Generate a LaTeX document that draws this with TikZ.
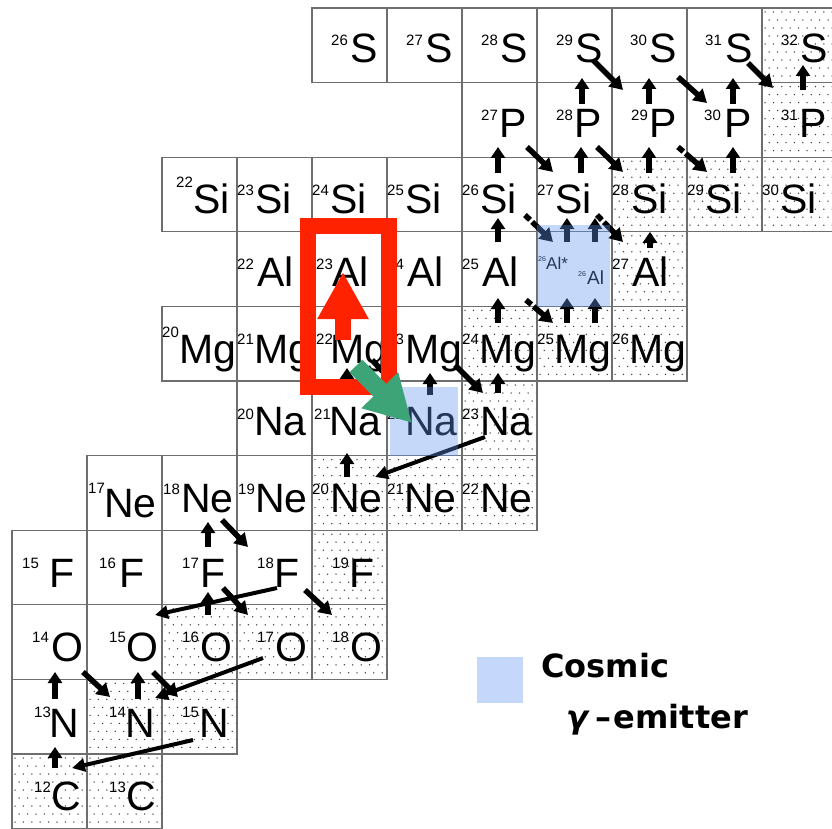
\documentclass[tikz,border=0pt]{standalone}
\usepackage{fontspec}
\setmainfont{Liberation Sans}
\newfontfamily\legendfont{DejaVu Sans}
\usetikzlibrary{arrows.meta}

\definecolor{gridline}{RGB}{110,110,110}
\definecolor{speck}{RGB}{60,60,60}
\definecolor{cosmic}{RGB}{197,216,251}
\definecolor{tint}{RGB}{98,150,244}
\definecolor{hlred}{RGB}{255,34,0}
\definecolor{hlgreen}{RGB}{61,164,120}

\tikzset{
  cellbox/.style={draw=gridline, line width=1.2pt, minimum width=75pt,
    minimum height=74.6pt, inner sep=0pt, outer sep=0pt},
  symtxt/.style={anchor=base west, inner sep=0pt, font=\fontsize{41}{41}\selectfont},
  suptxt/.style={anchor=base west, inner sep=0pt, font=\fontsize{15}{15}\selectfont},
  smalltxt/.style={anchor=base west, inner sep=0pt},
  pg/.style={line width=6.5pt, -{Triangle[length=11pt,width=14pt]}},
  beta/.style={line width=5.5pt, -{Triangle[length=13pt,width=15pt]}},
  palpha/.style={line width=4pt, -{Triangle[length=13pt,width=13pt]}},
  gapdash/.style={dash pattern=on 7pt off 3pt on 80pt off 0pt},
  redarr/.style={draw=hlred, line width=16pt, -{Triangle[length=47pt,width=48pt]}},
  greenarr/.style={draw=hlgreen, line width=18pt, -{Triangle[length=46pt,width=48pt]}},
  legendtxt/.style={anchor=base west, inner sep=0pt,
    font=\legendfont\bfseries\fontsize{32}{32}\selectfont},
}

% plain (radioactive) nuclide cell: name, column, row
\newcommand\nuc[3]{%
  \node[cellbox] (#1) at ({12+75*#2+37.5},{8+74.6*#3+37.3}) {};}
% stable nuclide cell with speckled background
\newcommand\stable[3]{%
  \begin{scope}
    \clip ({12+75*#2},{8+74.6*#3}) rectangle ++(75,74.6);
    \foreach \j in {0,...,9}{\foreach \i in {0,...,9}{
      \fill[speck] ({12+75*#2+3+8.4*\i+4.2*mod(\j,2)},{8+74.6*#3+4+8*\j}) circle (0.75pt);}}
  \end{scope}
  \nuc{#1}{#2}{#3}}
% label: name, column, row, mass number, symbol, mass dx, symbol dx, mass base, symbol base
\newcommand\iso[9]{%
  \node[suptxt] (#1a) at ({12+75*#2+#6},{8+74.6*#3+#8}) {#4};
  \node[symtxt] (#1s) at ({12+75*#2+#7},{8+74.6*#3+#9}) {#5};}
% arrow between two cells, offsets measured from each cell's north-west corner
\newcommand\link[5][pg]{%
  \draw[#1] ([shift={(#3)}]#2.north west) -- ([shift={(#5)}]#4.north west);}

\begin{document}
\begin{tikzpicture}[x=1pt,y=-1pt]
\useasboundingbox (0,0) rectangle (832,829);
\clip (0,0) rectangle (832,829);
\fill[white] (0,0) rectangle (832,829);

% ---------- cells ----------
\nuc{S26}{4}{0}\nuc{S27}{5}{0}\nuc{S28}{6}{0}\nuc{S29}{7}{0}\nuc{S30}{8}{0}\nuc{S31}{9}{0}\stable{S32}{10}{0}
\nuc{P27}{6}{1}\nuc{P28}{7}{1}\nuc{P29}{8}{1}\nuc{P30}{9}{1}\stable{P31}{10}{1}
\nuc{Si22}{2}{2}\nuc{Si23}{3}{2}\nuc{Si24}{4}{2}\nuc{Si25}{5}{2}\nuc{Si26}{6}{2}\nuc{Si27}{7}{2}
\stable{Si28}{8}{2}\stable{Si29}{9}{2}\stable{Si30}{10}{2}
\nuc{Al22}{3}{3}\nuc{Al23}{4}{3}\nuc{Al24}{5}{3}\nuc{Al25}{6}{3}\nuc{Al26}{7}{3}\stable{Al27}{8}{3}
\nuc{Mg20}{2}{4}\nuc{Mg21}{3}{4}\nuc{Mg22}{4}{4}\nuc{Mg23}{5}{4}
\stable{Mg24}{6}{4}\stable{Mg25}{7}{4}\stable{Mg26}{8}{4}
\nuc{Na20}{3}{5}\nuc{Na21}{4}{5}\nuc{Na22}{5}{5}\stable{Na23}{6}{5}
\nuc{Ne17}{1}{6}\nuc{Ne18}{2}{6}\nuc{Ne19}{3}{6}\stable{Ne20}{4}{6}\stable{Ne21}{5}{6}\stable{Ne22}{6}{6}
\nuc{F15}{0}{7}\nuc{F16}{1}{7}\nuc{F17}{2}{7}\nuc{F18}{3}{7}\stable{F19}{4}{7}
\nuc{O14}{0}{8}\nuc{O15}{1}{8}\stable{O16}{2}{8}\stable{O17}{3}{8}\stable{O18}{4}{8}
\nuc{N13}{0}{9}\stable{N14}{1}{9}\stable{N15}{2}{9}
\stable{C12}{0}{10}\stable{C13}{1}{10}

% ---------- labels ----------
\iso{S26}{4}{0}{26}{S}{19}{38}{38}{55}
\iso{S27}{5}{0}{27}{S}{19}{38}{38}{55}
\iso{S28}{6}{0}{28}{S}{19}{38}{38}{55}
\iso{S29}{7}{0}{29}{S}{19}{38}{38}{55}
\iso{S30}{8}{0}{30}{S}{18}{37}{38}{55}
\iso{S31}{9}{0}{31}{S}{18}{38}{38}{55}
\iso{S32}{10}{0}{32}{S}{19}{38}{38}{55}
\iso{P27}{6}{1}{27}{P}{19}{37}{38}{55}
\iso{P28}{7}{1}{28}{P}{19}{37}{38}{55}
\iso{P29}{8}{1}{29}{P}{19}{37}{38}{55}
\iso{P30}{9}{1}{30}{P}{17}{37}{38}{55}
\iso{P31}{10}{1}{31}{P}{19}{37}{38}{55}
\iso{Si22}{2}{2}{22}{Si}{14}{31}{30}{56}
\iso{Si23}{3}{2}{23}{Si}{0}{18}{38}{56}
\iso{Si24}{4}{2}{24}{Si}{0}{18}{38}{56}
\iso{Si25}{5}{2}{25}{Si}{0}{18}{38}{56}
\iso{Si26}{6}{2}{26}{Si}{0}{18}{38}{56}
\iso{Si27}{7}{2}{27}{Si}{0}{18}{38}{56}
\iso{Si28}{8}{2}{28}{Si}{0}{19}{38}{56}
\iso{Si29}{9}{2}{29}{Si}{0}{18}{38}{56}
\iso{Si30}{10}{2}{30}{Si}{0}{18}{38}{56}
\iso{Al22}{3}{3}{22}{Al}{0}{20}{38}{55}
\iso{Al23}{4}{3}{23}{Al}{4}{20}{38}{55}
\iso{Al24}{5}{3}{24}{Al}{0}{20}{38}{55}
\iso{Al25}{6}{3}{25}{Al}{0}{20}{38}{55}
\iso{Al27}{8}{3}{27}{Al}{0}{20}{38}{55}
\node[smalltxt, font=\fontsize{7}{7}\selectfont] (Al26ma) at (538,261) {26};
\node[smalltxt, font=\fontsize{17}{17}\selectfont] (Al26ms) at (546,269) {Al*};
\node[smalltxt, font=\fontsize{7}{7}\selectfont] (Al26ga) at (578,276) {26};
\node[smalltxt, font=\fontsize{19}{19}\selectfont] (Al26gs) at (587,284) {Al};
\iso{Mg20}{2}{4}{20}{Mg}{0}{17}{31}{57}
\iso{Mg21}{3}{4}{21}{Mg}{0}{17}{38}{57}
\iso{Mg22}{4}{4}{22}{Mg}{4}{18}{38}{57}
\iso{Mg23}{5}{4}{23}{Mg}{0}{18}{38}{57}
\iso{Mg24}{6}{4}{24}{Mg}{0}{17}{38}{57}
\iso{Mg25}{7}{4}{25}{Mg}{0}{17}{38}{57}
\iso{Mg26}{8}{4}{26}{Mg}{0}{17}{38}{57}
\iso{Na20}{3}{5}{20}{Na}{0}{17}{38}{54}
\iso{Na21}{4}{5}{21}{Na}{2}{17}{38}{54}
\iso{Na22}{5}{5}{22}{Na}{0}{18}{38}{54}
\iso{Na23}{6}{5}{23}{Na}{0}{18}{38}{54}
\iso{Ne17}{1}{6}{17}{Ne}{1}{17}{38}{62}
\iso{Ne18}{2}{6}{18}{Ne}{1}{19}{39}{57}
\iso{Ne19}{3}{6}{19}{Ne}{1}{18}{39}{57}
\iso{Ne20}{4}{6}{20}{Ne}{0}{18}{39}{57}
\iso{Ne21}{5}{6}{21}{Ne}{0}{17}{39}{57}
\iso{Ne22}{6}{6}{22}{Ne}{0}{18}{39}{57}
\iso{F15}{0}{7}{15}{F}{10}{37}{38}{57}
\iso{F16}{1}{7}{16}{F}{12}{32}{38}{57}
\iso{F17}{2}{7}{17}{F}{20}{38}{38}{57}
\iso{F18}{3}{7}{18}{F}{20}{37}{38}{57}
\iso{F19}{4}{7}{19}{F}{20}{37}{38}{57}
\iso{O14}{0}{8}{14}{O}{20}{39}{38}{57}
\iso{O15}{1}{8}{15}{O}{22}{39}{38}{57}
\iso{O16}{2}{8}{16}{O}{20}{38}{38}{57}
\iso{O17}{3}{8}{17}{O}{20}{38}{38}{57}
\iso{O18}{4}{8}{18}{O}{20}{38}{38}{57}
\iso{N13}{0}{9}{13}{N}{22}{37}{38}{58}
\iso{N14}{1}{9}{14}{N}{22}{38}{38}{58}
\iso{N15}{2}{9}{15}{N}{20}{37}{38}{58}
\iso{C12}{0}{10}{12}{C}{22}{39}{38}{56}
\iso{C13}{1}{10}{13}{C}{22}{39}{38}{56}

% ---------- (p,gamma) arrows ----------
\link{P28}{45,21.4}{S29}{45,70}
\link{P29}{37,21.4}{S30}{37,70}
\link{P30}{46,21.4}{S31}{46,70}
\link{P31}{41,7.4}{S32}{41,57}
\link{Si26}{36,15.8}{P27}{36,64.4}
\link{Si27}{44,15.8}{P28}{44,64.4}
\link{Si28}{37,15.8}{P29}{37,64.4}
\link{Si29}{46,15.8}{P30}{46,64.4}
\link{Al25}{36,10.2}{Si26}{36,60.8}
\link{Al26}{30,10.2}{Si27}{30,60.8}
\link{Al26}{58,10.2}{Si27}{58,60.8}
\link{Al27}{38,16}{Si28}{38,74.6}
\link{Mg24}{36,16.6}{Al25}{36,66.2}
\link{Mg25}{30,16.6}{Al26}{30,66.2}
\link{Mg25}{58,16.6}{Al26}{58,66.2}
\link{Na21}{35,12}{Mg22}{35,61.6}
\link{Na22}{43,14}{Mg23}{43,66.6}
\link{Na23}{36,12}{Mg24}{36,66.6}
\link{Ne20}{35,21.4}{Na21}{35,72}
\link{F17}{46,16.8}{Ne18}{46,66.4}
\link{O16}{46,10.2}{F17}{46,61.8}
\link{N13}{43,19.6}{O14}{43,67.2}
\link{N14}{51,19.6}{O15}{51,67.2}
\link{C12}{43,14}{N13}{43,67.6}

% ---------- beta+ decay arrows ----------
\link[beta]{S29}{56,52}{P29}{11,7.4}
\link[beta]{S30}{66,69}{P30}{20,20.4}
\link[beta]{S31}{61,55}{P31}{11,5.4}
\link[beta]{P27}{65,64.4}{Si27}{16,14.8}
\link[beta]{P28}{60,64.4}{Si28}{11,14.8}
\link[beta,gapdash]{P29}{66,64.4}{Si29}{20,14.8}
\link[beta,gapdash]{Si26}{63,57.8}{Al26}{16,10.2}
\link[beta,gapdash]{Si27}{60,57.8}{Al27}{11,10.2}
\link[beta,gapdash]{Al25}{64,68.2}{Mg25}{16,16.6}
\link[beta]{Mg22}{60,53.6}{Na22}{11,7}
\link[beta]{Mg23}{68,58.6}{Na23}{21,12}
\link[beta]{Ne18}{60,64.4}{F18}{11,16.8}
\link[beta]{F17}{61,57.8}{O17}{11,10.2}
\link[beta]{F18}{68,59.8}{O18}{20,10.2}
\link[beta]{O14}{71,67.2}{N14}{23,17.6}
\link[beta]{O15}{66,67.2}{N15}{16,17.6}

% ---------- (p,alpha) arrows ----------
\link[palpha]{Na23}{23,56}{Ne20}{63,21.4}
\link[palpha]{F18}{40,57.8}{O15}{68,10.2}
\link[palpha]{O17}{26,53.2}{N14}{68,18.6}
\link[palpha]{N15}{31,60.6}{C12}{60,14}

% ---------- cosmic gamma-ray emitters ----------
\fill[tint, fill opacity=0.37] (537,225) rectangle (610,307);
\fill[tint, fill opacity=0.37] (390,387) rectangle (458,456);

% ---------- highlighted reaction path ----------
\draw[hlred, line width=16pt] (308,225.5) rectangle (389,386.5);
\link[redarr]{Mg22}{31,33.6}{Al23}{31,40.2}
\link[greenarr]{Mg22}{44,59.6}{Na22}{25,42}

% ---------- legend ----------
\node[fill=cosmic, minimum size=46pt, inner sep=0pt] (key) at (500,680) {};
\node[legendtxt] (keya) at (541,677) {Cosmic};
\node[legendtxt] (keyb) at (566,728) {\textit{γ}\hspace{6pt}–\hspace{2pt}emitter};
\end{tikzpicture}
\end{document}
